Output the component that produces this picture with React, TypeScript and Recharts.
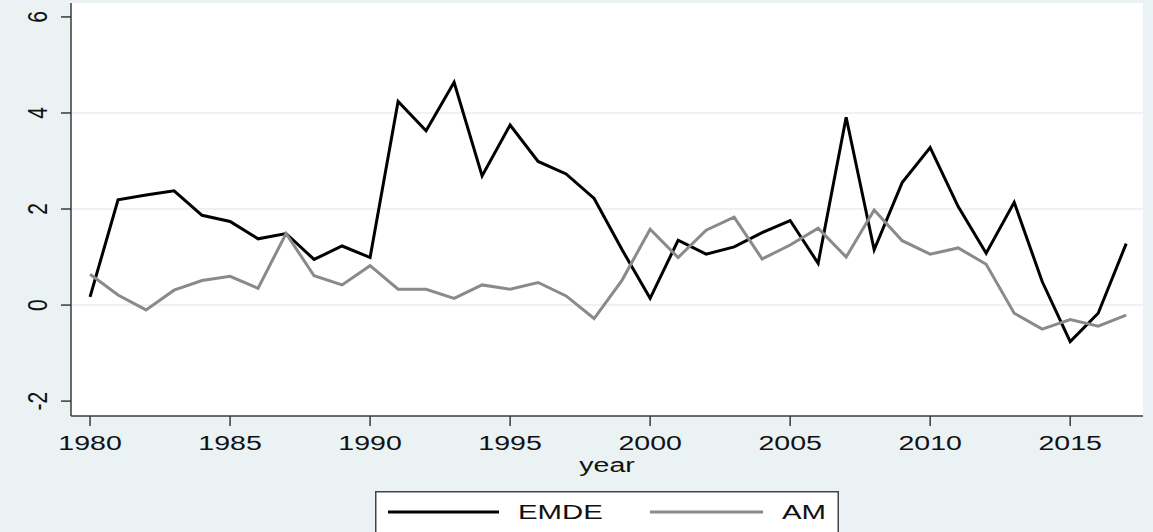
import { LineChart, Line, XAxis, YAxis, CartesianGrid, Legend } from 'recharts';

// Years on the x axis
const years = [
  1980, 1981, 1982, 1983, 1984, 1985, 1986, 1987, 1988, 1989,
  1990, 1991, 1992, 1993, 1994, 1995, 1996, 1997, 1998, 1999,
  2000, 2001, 2002, 2003, 2004, 2005, 2006, 2007, 2008, 2009,
  2010, 2011, 2012, 2013, 2014, 2015, 2016, 2017,
];

// Series values
const emde = [
  0.17, 2.19, 2.29, 2.38, 1.87, 1.74, 1.38, 1.49, 0.95, 1.23,
  0.99, 4.24, 3.63, 4.64, 2.69, 3.75, 2.99, 2.73, 2.22, 1.15,
  0.14, 1.35, 1.06, 1.21, 1.51, 1.76, 0.87, 3.91, 1.15, 2.55,
  3.28, 2.05, 1.08, 2.14, 0.49, -0.76, -0.17, 1.28,
];

const am = [
  0.64, 0.21, -0.1, 0.31, 0.51, 0.6, 0.35, 1.49, 0.61, 0.42,
  0.82, 0.33, 0.33, 0.14, 0.42, 0.33, 0.47, 0.19, -0.28, 0.52,
  1.58, 0.99, 1.56, 1.83, 0.96, 1.25, 1.6, 1.0, 1.98, 1.34,
  1.06, 1.19, 0.85, -0.17, -0.5, -0.3, -0.44, -0.21,
];

const xTicks = [1980, 1985, 1990, 1995, 2000, 2005, 2010, 2015];
const yTicks = [-2, 0, 2, 4, 6];

const data = years.map((year, i) => ({ year, EMDE: emde[i], AM: am[i] }));

const FONT = '"Liberation Sans", Arial, sans-serif';
const STRETCH = 1.36;

const XTick = (props: any) => {
  const { x, y, payload } = props;
  return (
    <text
      transform={`translate(${x},${y + 22}) scale(${STRETCH},1)`}
      textAnchor="middle"
      fontSize={21}
      fontFamily={FONT}
      fill="#111"
    >
      {payload.value}
    </text>
  );
};

const YTick = (props: any) => {
  const { x, y, payload } = props;
  return (
    <text
      transform={`translate(${x - 12},${y}) scale(${STRETCH},1) rotate(-90)`}
      textAnchor="middle"
      fontSize={21}
      fontFamily={FONT}
      fill="#111"
    >
      {payload.value}
    </text>
  );
};

const YearLabel = (props: any) => {
  const vb = props.viewBox || {};
  const cx = vb.x + vb.width / 2;
  return (
    <text
      transform={`translate(${cx},472) scale(${STRETCH},1)`}
      textAnchor="middle"
      fontSize={21}
      fontFamily={FONT}
      fill="#111"
    >
      year
    </text>
  );
};

const LegendBox = () => (
  <svg width={464} height={45} style={{ display: 'block' }}>
    <rect x={0.75} y={0.75} width={462.5} height={50} fill="#fff" stroke="#444" strokeWidth={1.5} />
    <line x1={13} y1={21} x2={124} y2={21} stroke="#000" strokeWidth={3} />
    <text
      transform={`translate(143,28) scale(1.4,1)`}
      fontSize={21}
      fontFamily={FONT}
      fill="#111"
    >
      EMDE
    </text>
    <line x1={275} y1={21} x2={388} y2={21} stroke="#8a8a8a" strokeWidth={3} />
    <text
      transform={`translate(407,28) scale(1.4,1)`}
      fontSize={21}
      fontFamily={FONT}
      fill="#111"
    >
      AM
    </text>
  </svg>
);

export default function App() {
  return (
    <div
      style={{
        position: 'absolute',
        left: 0,
        top: 0,
        width: 1153,
        height: 532,
        background: '#eaf2f3',
        overflow: 'hidden',
      }}
    >
      <LineChart
        width={1153}
        height={532}
        data={data}
        margin={{ top: 3, right: 10, bottom: 0, left: 0 }}
      >
        <CartesianGrid
          fill="#fff"
          vertical={false}
          horizontalValues={[0, 2, 4]}
          stroke="#e6eff1"
          strokeWidth={1.5}
        />
        <XAxis
          dataKey="year"
          type="number"
          domain={[1979.32, 2017.6]}
          allowDataOverflow
          ticks={xTicks}
          height={71}
          tickSize={10}
          tickMargin={2}
          stroke="#3a3a3a"
          strokeWidth={1.5}
          tick={<XTick />}
          label={<YearLabel />}
        />
        <YAxis
          type="number"
          domain={[-2.31, 6.29]}
          allowDataOverflow
          ticks={yTicks}
          width={71}
          tickSize={10}
          tickMargin={2}
          stroke="#3a3a3a"
          strokeWidth={1.5}
          tick={<YTick />}
        />
        <Line
          type="linear"
          dataKey="EMDE"
          stroke="#000"
          strokeWidth={3}
          dot={false}
          isAnimationActive={false}
        />
        <Line
          type="linear"
          dataKey="AM"
          stroke="#8a8a8a"
          strokeWidth={3}
          dot={false}
          isAnimationActive={false}
        />
        <Legend
          content={<LegendBox />}
          wrapperStyle={{ position: 'absolute', left: 375, top: 491, width: 464, height: 45 }}
        />
      </LineChart>
    </div>
  );
}
